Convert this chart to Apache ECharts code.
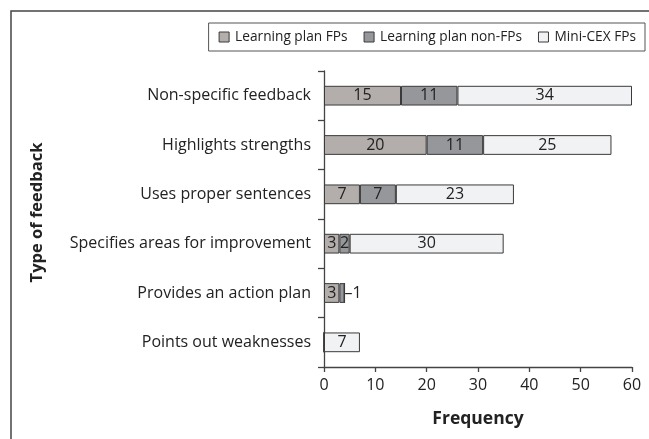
<!DOCTYPE html>
<html>
<head>
<meta charset="utf-8">
<script src="https://cdn.jsdelivr.net/npm/echarts@6/dist/echarts.min.js"></script>
<style>
  html, body { margin: 0; padding: 0; background: #fff; }
  #chart { width: 649px; height: 439px; }
</style>
</head>
<body>
<div id="chart"></div>
<script>
// Feedback types, listed top to bottom
const categories = [
  'Non-specific feedback',
  'Highlights strengths',
  'Uses proper sentences',
  'Specifies areas for improvement',
  'Provides an action plan',
  'Points out weaknesses'
];
const seriesNames = ['Learning plan FPs', 'Learning plan non-FPs', 'Mini-CEX FPs'];
const learningPlanFPs = [15, 20, 7, 3, 3, 0];
const learningPlanNonFPs = [11, 11, 7, 2, 1, 0];
const miniCexFPs = [34, 25, 23, 30, 0, 7];
const xTicks = [0, 10, 20, 30, 40, 50, 60];

const FONT = 'Open Sans';
const colors = ['#b3aeab', '#96979b', '#f1f2f4'];

// Segments too narrow for an inside label get their value placed to the right
const narrowMax = 1;

function makeSeries(name, values, color) {
  return {
    name: name,
    type: 'bar',
    stack: 'total',
    barWidth: '40%',
    itemStyle: { color: color, borderColor: '#3a3a3a', borderWidth: 1 },
    emphasis: { disabled: true },
    data: values.map(function (v) {
      const item = { value: v };
      if (v === 0) {
        item.label = { show: false };
      } else if (v <= narrowMax) {
        item.label = {
          show: true, position: 'right', distance: 0,
          formatter: '\u2013{c}'
        };
      }
      return item;
    }),
    label: {
      show: true,
      position: 'inside',
      color: '#222',
      fontFamily: FONT,
      fontSize: 16,
      formatter: '{c}'
    }
  };
}

const chart = echarts.init(document.getElementById('chart'), null, { renderer: 'canvas' });

chart.setOption({
  animation: false,
  textStyle: { fontFamily: FONT },
  grid: { left: 324, right: 17, top: 71, bottom: 72, containLabel: false },
  legend: {
    data: seriesNames,
    right: 4,
    top: 23,
    padding: [7, 9, 7, 10],
    itemGap: 16,
    itemWidth: 10,
    itemHeight: 10,
    icon: 'rect',
    borderColor: '#555',
    borderWidth: 1,
    itemStyle: { borderColor: '#3a3a3a', borderWidth: 1 },
    textStyle: { fontFamily: FONT, fontSize: 13.7, color: '#222', padding: [0, 0, 0, 1] }
  },
  xAxis: {
    type: 'value',
    min: xTicks[0],
    max: xTicks[xTicks.length - 1],
    interval: 10,
    name: 'Frequency',
    nameLocation: 'middle',
    nameGap: 43,
    nameTextStyle: { fontFamily: FONT, fontSize: 17.5, fontWeight: 'bold', color: '#222' },
    axisLine: { show: true, lineStyle: { color: '#444', width: 1.3 } },
    axisTick: { show: true, length: 5, lineStyle: { color: '#444', width: 1.3 } },
    axisLabel: { color: '#222', fontSize: 16, fontFamily: FONT, margin: 10 },
    splitLine: { show: false }
  },
  yAxis: {
    type: 'category',
    inverse: true,
    data: categories,
    name: 'Type of feedback',
    nameLocation: 'middle',
    nameRotate: 90,
    nameGap: 278,
    nameTextStyle: { fontFamily: FONT, fontSize: 16.5, fontWeight: 'bold', color: '#222', padding: [0, 0, 0, 13] },
    axisLine: { show: true, lineStyle: { color: '#444', width: 1.3 } },
    axisTick: { show: true, length: 6, lineStyle: { color: '#444', width: 1.3 } },
    axisLabel: { color: '#222', fontSize: 16, fontFamily: FONT, margin: 13 }
  },
  graphic: [{
    type: 'polyline',
    silent: true,
    shape: { points: [[11, 439], [11, 11], [649, 11]] },
    style: { stroke: '#444', lineWidth: 1.5, fill: null }
  }],
  series: [
    makeSeries(seriesNames[0], learningPlanFPs, colors[0]),
    makeSeries(seriesNames[1], learningPlanNonFPs, colors[1]),
    makeSeries(seriesNames[2], miniCexFPs, colors[2])
  ]
});
</script>
</body>
</html>
